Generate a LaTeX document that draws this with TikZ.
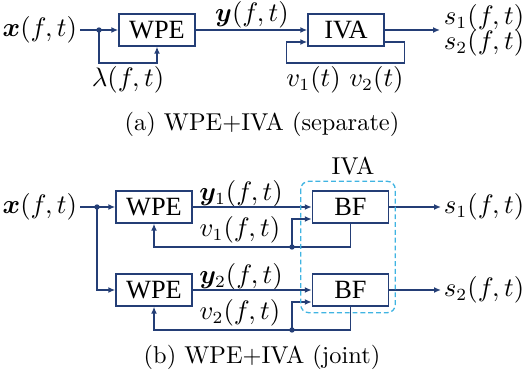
\documentclass[tikz,border=0pt]{standalone}
\usepackage{bm}
\usepackage{fontspec}
\newfontfamily\boxfont{Liberation Serif}
\usepackage{tikz}
\usetikzlibrary{arrows.meta,positioning,calc}
\definecolor{wire}{RGB}{36,62,118}
\definecolor{ivacol}{RGB}{64,180,226}
\tikzset{
  block/.style={draw=wire, line width=0.6pt, minimum width=31.2pt, minimum height=13.1pt, inner sep=0pt, font=\boxfont\fontsize{10.8}{12}\selectfont},
  sig/.style={inner sep=1pt, font=\fontsize{10.5}{12.6}\selectfont},
  plain/.style={draw=wire, line width=0.55pt},
  arrow/.style={plain, -{Latex[length=2.8pt,width=2.4pt]}},
  ivabox/.style={draw=ivacol, line width=0.55pt, dash pattern=on 2pt off 1.2pt, rounded corners=3.3pt}
}

\begin{document}
\begin{tikzpicture}[x=0.41pt, y=-0.41pt]
  \useasboundingbox (0,0) rectangle (523,380);

  % (a) separate
  \node[sig, anchor=east] (xa) at (80,30) {$\bm{x}(f,t)$};
  \node[block] (wpea) at (157,30) {WPE};
  \node[block] (ivaa) at (346,30) {IVA};
  \coordinate (ja) at (99,30);
  \coordinate (outa) at (440,30);
  \node[sig] (lam) at (128,80) {$\lambda(f,t)$};
  \node[sig] (ya) at (252,15) {$\bm{y}(f,t)$};
  \node[sig] (va) at (345,80) {$v_1(t)$ $v_2(t)$};
  \node[sig, anchor=west] (s1a) at (441,18) {$s_1(f,t)$};
  \node[sig, anchor=west] (s2a) at (441,43) {$s_2(f,t)$};
  \node (capa) at (262,124) {(a) WPE+IVA (separate)};

  \draw[plain] (xa) -- (ja);
  \draw[arrow] (ja) -- (wpea);
  \draw[arrow] (ja) -- ++(0,33) -| (wpea.south);
  \draw[arrow] (wpea) -- (ivaa);
  \draw[arrow] ($(ivaa.east)+(0,12)$) -- ++(20,0) -- ++(0,21) -| ($(ivaa.west)+(-21,12)$) -- ($(ivaa.west)+(0,12)$);
  \draw[arrow] (ivaa) -- (outa);
  \fill[wire] (ja) circle (1.1pt);

  % (b) joint
  \node (ivalbl) at (353,166) {IVA};
  \node[sig, anchor=east] (xb) at (80,207) {$\bm{x}(f,t)$};
  \node[block] (wpe1) at (154,207) {WPE};
  \node[block] (wpe2) at (154,290) {WPE};
  \node[block] (bf1) at (350.5,207) {BF};
  \node[block] (bf2) at (350.5,290) {BF};
  \coordinate (jb) at (97,207);
  \coordinate (d1) at (292,247);
  \coordinate (d2) at (292,330);
  \node[sig] (y1) at (241,194) {$\bm{y}_1(f,t)$};
  \node[sig] (v1) at (240,230) {$v_1(f,t)$};
  \node[sig] (y2) at (241,277) {$\bm{y}_2(f,t)$};
  \node[sig] (v2) at (240,313) {$v_2(f,t)$};
  \node[sig, anchor=west] (s1b) at (441,207) {$s_1(f,t)$};
  \node[sig, anchor=west] (s2b) at (441,290) {$s_2(f,t)$};
  \node (capb) at (262,357) {(b) WPE+IVA (joint)};

  \draw[plain] (xb) -- (jb);
  \draw[arrow] (jb) -- (wpe1);
  \draw[arrow] (jb) |- (wpe2);
  \draw[arrow] (wpe1) -- (bf1);
  \draw[arrow] (wpe2) -- (bf2);
  \draw[arrow] (bf1.south) |- (d1) -| (wpe1.south);
  \draw[arrow] (bf2.south) |- (d2) -| (wpe2.south);
  \draw[arrow] (d1) |- ($(bf1.west)+(0,12)$);
  \draw[arrow] (d2) |- ($(bf2.west)+(0,12)$);
  \draw[arrow] (bf1) -- (s1b);
  \draw[arrow] (bf2) -- (s2b);
  \fill[wire] (jb) circle (1.1pt);
  \fill[wire] (d1) circle (1.1pt);
  \fill[wire] (d2) circle (1.1pt);
  \draw[ivabox] ($(bf1.north west)+(-11,-9)$) rectangle ($(bf2.south east)+(6,6)$);
\end{tikzpicture}
\end{document}
